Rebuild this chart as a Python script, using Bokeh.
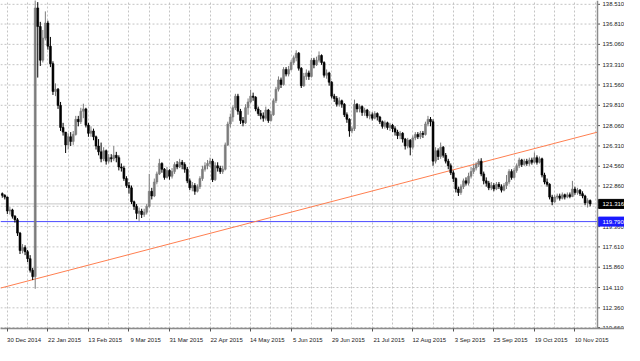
from bokeh.plotting import figure
from bokeh.models import Range1d, FixedTicker, Span, ColumnDataSource
from bokeh.core.properties import value
from bokeh.embed import file_html
from bokeh.resources import INLINE

# ---- data (CHF/JPY daily) ----
first_bar = -2
first_open = 122.20
closes = [
    122.05, 121.90, 120.70, 120.80, 120.25, 119.95, 118.80, 117.30, 117.55, 117.20, 116.60, 115.60,
    115.05, 138.20, 136.60, 133.70, 135.60, 136.90, 134.90, 133.40, 131.00, 131.20,
    129.80, 127.90, 127.50, 126.40, 127.10, 126.70, 127.30, 128.60, 128.40, 129.30,
    129.50, 128.10, 127.40, 127.60, 127.10, 126.30, 125.80, 125.20, 125.90, 125.00,
    125.30, 125.20, 125.50, 125.30, 124.50, 124.40, 123.50, 122.90, 122.70, 121.50,
    121.10, 120.50, 120.70, 120.40, 120.60, 121.10, 122.40, 122.00, 123.20, 123.90,
    124.80, 124.30, 123.60, 124.20, 123.70, 124.10, 124.70, 124.50, 124.90, 124.70,
    124.30, 123.30, 122.70, 122.90, 122.40, 122.80, 123.50, 124.30, 124.60, 124.80,
    125.00, 123.40, 124.60, 124.40, 124.10, 124.30, 126.40, 128.20, 128.80, 129.60,
    130.60, 129.30, 128.50, 128.30, 129.60, 130.10, 130.60, 130.50, 129.50, 129.10,
    128.90, 128.70, 129.40, 128.50, 129.00, 130.20, 131.20, 132.00, 131.60, 132.90,
    132.50, 132.90, 133.50, 133.90, 134.30, 133.00, 131.50, 132.30, 132.60, 132.30,
    133.70, 133.30, 133.70, 134.10, 133.50, 132.40, 132.60, 131.80, 130.60, 130.40,
    129.90, 130.20, 129.90, 129.00, 128.60, 127.60, 127.80, 129.90, 129.50, 129.70,
    129.20, 129.40, 128.90, 129.00, 128.70, 129.10, 128.80, 128.40, 128.00, 128.30,
    127.90, 128.10, 127.80, 127.50, 127.20, 127.40, 126.90, 126.30, 126.80, 126.20,
    127.00, 127.30, 127.10, 127.40, 127.30, 128.20, 128.60, 128.40, 125.00, 125.90,
    125.40, 126.20, 125.50, 125.00, 124.60, 124.00, 123.50, 122.60, 122.30, 122.80,
    123.30, 123.10, 123.70, 124.10, 124.40, 124.70, 125.00, 123.90, 123.30, 123.10,
    122.70, 122.90, 122.60, 123.00, 122.80, 122.50, 122.90, 123.20, 124.10, 123.60,
    124.20, 124.60, 125.10, 124.70, 125.00, 124.80, 125.10, 124.90, 125.30, 124.90,
    125.20, 123.80, 123.20, 123.00, 121.90, 121.50, 121.90, 122.00, 121.80, 122.10,
    121.90, 122.10, 121.95, 122.60, 122.30, 122.50, 122.20, 122.00, 121.40, 121.60, 121.316,
]
highs = [
    122.30, 122.15, 121.95, 121.05, 120.90, 120.35, 120.10, 118.90, 117.85, 117.75, 117.35, 116.90,
    115.80, 141.00, 138.70, 137.00, 136.30, 137.90, 137.10, 135.70, 133.60, 131.70,
    131.30, 130.10, 128.30, 127.50, 127.40, 127.50, 127.60, 128.90, 128.90, 129.60,
    129.95, 129.60, 128.30, 128.00, 127.80, 127.20, 126.90, 126.60, 126.20, 126.00,
    125.60, 125.60, 126.30, 125.80, 125.50, 124.80, 124.60, 123.70, 123.20, 122.90,
    121.60, 121.30, 121.00, 120.90, 120.90, 121.30, 123.90, 122.70, 123.50, 124.10,
    125.20, 124.90, 124.40, 124.50, 124.30, 124.40, 124.90, 125.00, 125.20, 125.10,
    124.90, 124.50, 123.50, 123.20, 123.10, 123.00, 123.70, 124.60, 124.90, 125.10,
    125.30, 125.20, 124.90, 124.90, 124.60, 124.60, 126.60, 128.40, 129.10, 129.80,
    130.80, 130.80, 129.50, 128.80, 129.90, 130.40, 131.15, 130.90, 130.60, 129.70,
    129.40, 129.20, 129.70, 129.50, 129.30, 130.40, 131.40, 132.30, 132.20, 133.10,
    133.10, 133.20, 133.70, 134.10, 134.55, 134.40, 133.10, 132.60, 132.90, 132.80,
    133.90, 133.90, 134.00, 134.45, 134.20, 133.60, 132.90, 132.70, 131.90, 130.80,
    130.60, 130.50, 130.30, 130.00, 129.20, 128.70, 128.00, 130.30, 130.00, 129.90,
    129.80, 129.60, 129.50, 129.30, 129.20, 129.30, 129.20, 128.90, 128.50, 128.50,
    128.40, 128.30, 128.20, 128.00, 127.70, 127.60, 127.50, 127.00, 127.00, 126.90,
    127.20, 127.50, 127.50, 127.60, 127.60, 128.40, 128.90, 128.80, 128.60, 126.20,
    126.10, 126.60, 126.30, 125.70, 125.20, 124.80, 124.20, 123.60, 122.80, 123.00,
    123.50, 123.60, 124.00, 124.50, 124.70, 124.90, 125.20, 125.25, 124.10, 123.60,
    123.30, 123.20, 123.10, 123.20, 123.20, 123.00, 123.10, 123.80, 124.30, 124.30,
    124.40, 124.80, 125.30, 125.20, 125.20, 125.20, 125.30, 125.30, 125.75, 125.50,
    125.40, 125.30, 124.00, 123.50, 123.10, 122.10, 122.10, 122.20, 122.20, 122.30,
    122.20, 122.30, 122.30, 123.30, 122.80, 122.70, 122.60, 122.40, 122.10, 121.80, 121.70,
]
lows = [
    121.85, 121.70, 120.45, 120.40, 120.05, 119.70, 118.55, 117.00, 117.05, 116.90, 116.30, 115.40,
    114.75, 114.00, 132.20, 133.20, 133.50, 135.40, 134.60, 133.10, 130.70, 130.60,
    129.50, 127.60, 127.20, 125.70, 126.00, 126.30, 126.40, 127.20, 128.00, 128.20,
    128.70, 127.90, 127.10, 127.10, 126.80, 126.00, 125.50, 124.90, 125.00, 124.70,
    124.80, 124.90, 125.00, 124.90, 124.20, 124.10, 123.30, 122.70, 122.20, 121.30,
    120.80, 120.00, 119.85, 120.10, 120.20, 120.40, 121.00, 121.70, 121.90, 123.00,
    123.80, 124.00, 123.40, 123.50, 123.40, 123.50, 123.90, 124.30, 124.40, 124.30,
    124.00, 123.10, 122.50, 122.40, 122.10, 122.30, 122.60, 123.30, 124.10, 124.30,
    124.50, 123.20, 123.30, 124.10, 123.90, 123.90, 124.20, 126.30, 127.90, 128.40,
    129.40, 129.00, 128.20, 128.00, 128.20, 129.00, 130.00, 130.20, 129.30, 128.90,
    128.60, 128.40, 128.50, 128.30, 128.40, 128.90, 130.00, 131.00, 131.30, 131.50,
    132.30, 132.30, 132.80, 133.30, 133.60, 132.80, 131.30, 131.40, 132.00, 132.00,
    132.20, 133.00, 133.20, 133.50, 133.30, 132.20, 132.10, 131.50, 130.40, 130.10,
    129.70, 129.70, 129.60, 128.80, 128.30, 127.10, 127.40, 127.60, 129.20, 129.20,
    128.90, 128.90, 128.70, 128.60, 128.50, 128.60, 128.50, 128.20, 127.80, 127.80,
    127.70, 127.60, 127.50, 127.20, 126.90, 126.90, 126.60, 126.00, 126.10, 125.50,
    126.00, 126.80, 126.90, 126.90, 127.00, 127.20, 128.00, 128.00, 124.60, 124.80,
    125.10, 125.20, 125.30, 124.80, 124.30, 123.80, 123.20, 122.30, 122.00, 122.10,
    122.60, 122.90, 122.90, 123.50, 123.90, 124.20, 124.50, 123.70, 123.00, 122.80,
    122.50, 122.50, 122.40, 122.50, 122.60, 122.30, 122.40, 122.60, 123.00, 123.40,
    123.50, 124.00, 124.40, 124.50, 124.60, 124.60, 124.60, 124.70, 124.80, 124.70,
    124.80, 123.60, 123.00, 122.80, 121.70, 121.20, 121.40, 121.70, 121.60, 121.70,
    121.70, 121.80, 121.80, 121.90, 122.10, 122.10, 122.00, 121.80, 121.20, 121.00, 121.10,
]
date_labels = ["30 Dec 2014", "22 Jan 2015", "13 Feb 2015", "9 Mar 2015", "31 Mar 2015",
               "22 Apr 2015", "14 May 2015", "5 Jun 2015", "29 Jun 2015", "21 Jul 2015",
               "12 Aug 2015", "3 Sep 2015", "25 Sep 2015", "19 Oct 2015", "10 Nov 2015"]
price_ticks = [110.66, 112.36, 114.11, 115.86, 117.61, 119.36, 121.11, 122.86, 124.56,
               126.31, 128.06, 129.81, 131.56, 133.31, 135.06, 136.81, 138.51]
last_price = 121.316
level_price = 119.790
trend_bars = [-2.7, 232.9]
trend_prices = [114.06, 127.50]

# ---- geometry ----
W, H = 624, 345
PLOT_PX, SCALE_PX = 597, 27
x0, xe = -2.7, 232.9                      # visible bar span of the price area
bpp = (xe - x0) / PLOT_PX                 # bars per pixel
xfull = xe + SCALE_PX * bpp               # frame also covers the price scale
y0, y1 = 110.58, 138.84
FONT = "Liberation Sans"

n = len(closes)
bars = list(range(first_bar, first_bar + n))
opens = [first_open] + closes[:-1]
up = [c >= o for o, c in zip(opens, closes)]
UP_COL, DN_COL = "#7c7c7c", "#000000"
src = ColumnDataSource(dict(
    x=bars,
    top=[max(o, c) for o, c in zip(opens, closes)],
    bottom=[min(o, c) for o, c in zip(opens, closes)],
    high=highs, low=lows,
    color=[UP_COL if u else DN_COL for u in up],
))

p = figure(width=W, height=H, output_backend="svg", toolbar_location=None,
           x_range=Range1d(x0, xfull), y_range=Range1d(y0, y1),
           y_axis_location=None, min_border=0)
p.outline_line_color = None
p.background_fill_color = "white"
p.border_fill_color = "white"
p.ygrid.visible = False

GRID = dict(line_color="#c4c4c4", line_dash="2 2", line_width=1)

# vertical grid every 8 bars
step = 16
label_bars = [i * step for i in range(len(date_labels))]
p.xgrid.ticker = FixedTicker(ticks=list(range(0, int(xe) + 1, step // 2)))
p.xgrid.grid_line_color = "#c4c4c4"
p.xgrid.grid_line_dash = "2 2"

# horizontal grid only over price area
p.segment(x0=[x0] * len(price_ticks), x1=[xe] * len(price_ticks),
          y0=price_ticks, y1=price_ticks, **GRID)

# x axis: labels start at the tick
shift = 6.6
ax = p.xaxis[0]
ax.ticker = FixedTicker(ticks=[b + shift for b in label_bars], minor_ticks=label_bars)
ax.major_label_overrides = {b + shift: t for b, t in zip(label_bars, date_labels)}
ax.major_tick_line_color = None
ax.minor_tick_line_color = "#555555"
ax.minor_tick_out = 3
ax.minor_tick_in = 0
ax.major_label_standoff = 2
ax.axis_line_color = "#8c8c8c"
ax.axis_line_width = 1.5
ax.major_label_text_font = FONT
ax.major_label_text_font_size = "6px"
ax.major_label_text_color = "#222222"

# reference lines (price area only)
p.segment(x0=[x0], x1=[xe], y0=[last_price], y1=[last_price], line_color="#c8c8c8", line_width=1)
p.segment(x0=[x0], x1=[xe], y0=[level_price], y1=[level_price], line_color="#4a4aff", line_width=1)
p.line(x=trend_bars, y=trend_prices, line_color="#ff7f50", line_width=1)

# candles
p.segment(x0="x", y0="low", x1="x", y1="high", source=src, line_color="color", line_width=1)
p.vbar(x="x", width=0.75, top="top", bottom="bottom", source=src,
       fill_color="color", line_color="color", line_width=0.6)

# price scale: axis line, ticks, labels
p.add_layout(Span(location=xe, dimension="height", line_color="#8c8c8c", line_width=1.5))
p.segment(x0=[xe] * len(price_ticks), x1=[xe + 2.5 * bpp] * len(price_ticks),
          y0=price_ticks, y1=price_ticks, line_color="#555555", line_width=1)
p.text(x=[xe] * len(price_ticks), y=price_ticks, text=["%.3f" % v for v in price_ticks],
       x_offset=5, text_baseline="middle", text_align="left", text_font=value(FONT),
       text_font_size="6px", text_color="#222222")

# price tags on the scale
for price, bg in ((level_price, "#1a1aff"), (last_price, "#000000")):
    p.rect(x=[xe + SCALE_PX * bpp / 2 + 0.5 * bpp], y=[price], width=SCALE_PX - 1, height=9,
           width_units="screen", height_units="screen", fill_color=bg, line_color=bg)
    p.text(x=[xe], y=[price], text=["%.3f" % price], x_offset=5, text_baseline="middle",
           text_align="left", text_font=value(FONT), text_font_size="6px", text_color="white")

open("out.html", "w").write(file_html(p, INLINE))
